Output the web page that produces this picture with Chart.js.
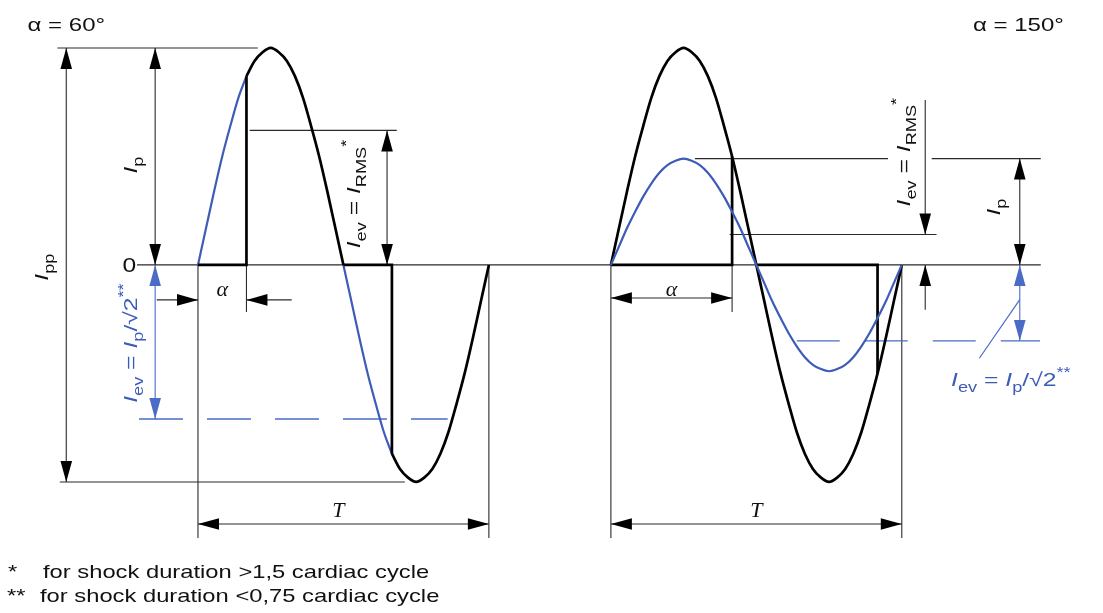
<!DOCTYPE html>
<html>
<head>
<meta charset="utf-8">
<script src="https://cdn.jsdelivr.net/npm/chart.js@4"></script>
<style>
html,body{margin:0;padding:0;background:#fff;}
#wrap{width:1103px;height:613px;position:relative;}
</style>
</head>
<body>
<div id="wrap"><canvas id="wave"></canvas></div>
<script>
// phase angle in degrees, one sample every 10 deg over one period
const phase = [0,10,20,30,40,50,60,70,80,90,100,110,120,130,140,150,160,170,180,
  190,200,210,220,230,240,250,260,270,280,290,300,310,320,330,340,350,360];
// mains current, normalised to the peak Ip
const mains = [0,0.17,0.34,0.5,0.64,0.77,0.87,0.94,0.98,1,0.98,0.94,0.87,0.77,0.64,0.5,0.34,0.17,0,
  -0.17,-0.34,-0.5,-0.64,-0.77,-0.87,-0.94,-0.98,-1,-0.98,-0.94,-0.87,-0.77,-0.64,-0.5,-0.34,-0.17,0];
// equivalent sine for the 150 deg case
const evWave = [0,0.085,0.17,0.245,0.315,0.375,0.425,0.46,0.48,0.49,0.48,0.46,0.425,0.375,0.315,0.245,0.17,0.085,0,
  -0.085,-0.17,-0.245,-0.315,-0.375,-0.425,-0.46,-0.48,-0.49,-0.48,-0.46,-0.425,-0.375,-0.315,-0.245,-0.17,-0.085,0];

// per panel: where the period starts on the x axis, firing angle and levels
const panelStart = [0, 511];
const alpha = [60, 150];
const peakLevel = [1, 0.49];
const rmsLevel = [0.62, 0.14];
const evLevel = [-0.71, -0.35];

const BLACK = '#000';
const BLUE = '#3d5cb8';
const LINE = '#2a2a2a';
const BLUE_LINE = '#4a6cc6';

const at = d => phase.indexOf(d);
function piece(p, from, to, ys) {
  const i0 = at(from), i1 = at(to);
  return phase.slice(i0, i1 + 1).map((d, k) => ({x: panelStart[p] + d, y: ys[i0 + k]}));
}
// conduction gap at zero, then the jump when the thyristor fires
function step(p, from, fire) {
  const o = panelStart[p];
  return [{x: o + from, y: 0}, {x: o + fire, y: 0}, {x: o + fire, y: mains[at(fire)]}];
}

const curve = (data, color, w) => ({data, borderColor: color, borderWidth: w,
  pointRadius: 0, cubicInterpolationMode: 'monotone', fill: false});
const straight = (data, color, w) => ({data, borderColor: color, borderWidth: w,
  pointRadius: 0, tension: 0, fill: false, borderJoinStyle: 'miter'});

const datasets = [
  // alpha = 60
  straight(step(0, 0, alpha[0]), BLACK, 2.7),
  straight(step(0, 180, 180 + alpha[0]), BLACK, 2.7),
  curve(piece(0, alpha[0], 180, mains), BLACK, 2.7),
  curve(piece(0, 180 + alpha[0], 360, mains), BLACK, 2.7),
  curve(piece(0, 0, alpha[0], mains), BLUE, 2.2),
  curve(piece(0, 180, 180 + alpha[0], mains), BLUE, 2.2),
  // alpha = 150
  curve(piece(1, 0, 360, evWave), BLUE, 2.2),
  curve(piece(1, 0, 360, mains), BLACK, 2.7),
  straight(step(1, 0, alpha[1]), BLACK, 2.7),
  straight(step(1, 180, 180 + alpha[1]), BLACK, 2.7)
];

const SANS = '"Liberation Sans", Arial, sans-serif';
const SERIF = '"Liberation Serif", "Times New Roman", serif';
const WIDE = 1.3;   // the lettering runs wide

function rich(ctx, parts, x, y, opt) {
  const size = opt.size || 19;
  ctx.save();
  ctx.translate(x, y);
  if (opt.up) ctx.rotate(-Math.PI / 2);
  ctx.scale(WIDE, 1);
  ctx.fillStyle = opt.color || '#111';
  ctx.textBaseline = 'alphabetic';
  ctx.textAlign = 'left';
  const fontOf = p => `${p.it ? 'italic ' : ''}${p.sub || p.sup ? Math.round(size * 0.74) : size}px ${SANS}`;
  let w = 0;
  parts.forEach(p => { ctx.font = fontOf(p); w += ctx.measureText(p.t).width; });
  let cx = opt.center ? -w / 2 : 0;
  parts.forEach(p => {
    ctx.font = fontOf(p);
    const dy = p.sub ? size * 0.32 : p.sup ? -size * 0.45 : 0;
    ctx.fillText(p.t, cx, dy);
    cx += ctx.measureText(p.t).width;
  });
  ctx.restore();
}

function plain(ctx, text, x, y, size, align, wide) {
  ctx.save();
  ctx.translate(x, y);
  ctx.scale(wide || WIDE, 1);
  ctx.fillStyle = '#111';
  ctx.font = `${size}px ${SANS}`;
  ctx.textAlign = align || 'left';
  ctx.fillText(text, 0, 0);
  ctx.restore();
}

const I = {t: 'I', it: 1};
const lblPP = [I, {t: 'pp', sub: 1}];
const lblP = [I, {t: 'p', sub: 1}];
const lblRMS = [I, {t: 'ev', sub: 1}, {t: ' = '}, I, {t: 'RMS', sub: 1}, {t: '*', sup: 1}];
const lblEV = [I, {t: 'ev', sub: 1}, {t: ' = '}, I, {t: 'p', sub: 1}, {t: '/\u221A2'}, {t: '**', sup: 1}];

const sketch = {
  id: 'sketch',
  beforeDatasetsDraw(chart) {
    const {ctx, scales: {x, y}} = chart;
    const X = (p, d) => x.getPixelForValue(panelStart[p] + d);
    const Y = v => y.getPixelForValue(v);

    const seg = (x1, y1, x2, y2, color, w, dash) => {
      ctx.save();
      ctx.strokeStyle = color || LINE;
      ctx.lineWidth = w || 1.1;
      if (dash) { ctx.setLineDash(dash); }
      ctx.beginPath(); ctx.moveTo(x1, y1); ctx.lineTo(x2, y2); ctx.stroke();
      ctx.restore();
    };
    const head = (tx, ty, dx, dy, color) => {
      const L = 21, H = 5.8;
      const len = Math.hypot(dx, dy), ux = dx / len, uy = dy / len;
      ctx.save();
      ctx.fillStyle = color || '#000';
      ctx.beginPath();
      ctx.moveTo(tx, ty);
      ctx.lineTo(tx - ux * L - uy * H, ty - uy * L + ux * H);
      ctx.lineTo(tx - ux * L + uy * H, ty - uy * L - ux * H);
      ctx.closePath(); ctx.fill();
      ctx.restore();
    };
    // dimension arrow with heads on both ends
    const dim = (x1, y1, x2, y2, color) => {
      seg(x1, y1, x2, y2, color);
      head(x1, y1, x1 - x2, y1 - y2, color);
      head(x2, y2, x2 - x1, y2 - y1, color);
    };
    const hline = (p, d1, d2, v, color, dash) => seg(X(p, d1), Y(v), X(p, d2), Y(v), color, dash ? 1.4 : 1.1, dash);
    const vline = (p, d, v1, v2) => seg(X(p, d), Y(v1), X(p, d), Y(v2));

    // zero axis through both panels
    seg(X(0, -75.5), Y(0), X(0, 1043), Y(0), LINE, 1.3);

    // ---- alpha = 60 ----
    hline(0, -174, 74, peakLevel[0]);
    hline(0, -171, 256, -peakLevel[0]);
    dim(X(0, -163), Y(peakLevel[0]), X(0, -163), Y(-peakLevel[0]));
    dim(X(0, -53), Y(peakLevel[0]), X(0, -53), Y(0));
    dim(X(0, -53), Y(0), X(0, -53), Y(evLevel[0]), BLUE_LINE);
    hline(0, -73, 309, evLevel[0], BLUE_LINE, [44, 24]);
    vline(0, 0, 0, -1.258);
    vline(0, alpha[0], 0, -0.217);
    vline(0, 360, 0, -1.258);
    seg(X(0, -51), Y(-0.161), X(0, 0), Y(-0.161));
    head(X(0, 0), Y(-0.161), 1, 0);
    seg(X(0, 116), Y(-0.161), X(0, alpha[0]), Y(-0.161));
    head(X(0, alpha[0]), Y(-0.161), -1, 0);
    hline(0, 64, 246, rmsLevel[0]);
    dim(X(0, 234), Y(rmsLevel[0]), X(0, 234), Y(0));
    dim(X(0, 0), Y(-1.194), X(0, 360), Y(-1.194));

    // ---- alpha = 150 ----
    vline(1, 0, 0, -1.258);
    vline(1, alpha[1], 0, -0.217);
    vline(1, 360, 0, -1.258);
    dim(X(1, 0), Y(-0.152), X(1, alpha[1]), Y(-0.152));
    dim(X(1, 0), Y(-1.194), X(1, 360), Y(-1.194));
    hline(1, 104, 343, peakLevel[1]);
    hline(1, 397, 532, peakLevel[1]);
    hline(1, 147, 403, rmsLevel[1]);
    seg(X(1, 389), Y(0.76), X(1, 389), Y(rmsLevel[1]));
    head(X(1, 389), Y(rmsLevel[1]), 0, 1);
    seg(X(1, 389), Y(-0.207), X(1, 389), Y(0));
    head(X(1, 389), Y(0), 0, -1);
    dim(X(1, 506), Y(peakLevel[1]), X(1, 506), Y(0));
    dim(X(1, 506), Y(0), X(1, 506), Y(evLevel[1]), BLUE_LINE);
    hline(1, 230, 531, evLevel[1], BLUE_LINE, [43, 25]);
    seg(X(1, 456), Y(-0.43), X(1, 506), Y(-0.16), BLUE_LINE, 1.2);
  },
  afterDatasetsDraw(chart) {
    const {ctx, scales: {x, y}} = chart;
    const X = (p, d) => x.getPixelForValue(panelStart[p] + d);
    const Y = v => y.getPixelForValue(v);

    plain(ctx, '\u03B1 = 60\u00B0', X(0, -211), Y(1.078), 18.5);
    plain(ctx, '\u03B1 = 150\u00B0', X(1, 448), Y(1.078), 18.5);
    plain(ctx, '0', X(0, -85), Y(0) + 7.5, 20.5, 'center', 1.2);

    ctx.save();
    ctx.fillStyle = '#111';
    ctx.textAlign = 'center';
    ctx.font = `italic 22px ${SERIF}`;
    ctx.fillText('\u03B1', X(0, alpha[0] / 2), Y(-0.143));
    ctx.fillText('\u03B1', X(1, alpha[1] / 2), Y(-0.143));
    ctx.fillText('T', X(0, 180) - 5, Y(-1.161));
    ctx.fillText('T', X(1, 180), Y(-1.161));
    ctx.restore();

    rich(ctx, lblPP, X(0, -186), Y(-0.01), {up: 1, center: 1});
    rich(ctx, lblP, X(0, -75.5), Y(0.46), {up: 1, center: 1});
    rich(ctx, lblEV, X(0, -75.5), Y(-0.36), {up: 1, center: 1, color: BLUE});
    rich(ctx, lblRMS, X(0, 200), Y(0.327), {up: 1, center: 1});
    rich(ctx, lblRMS, X(1, 370), Y(0.52), {up: 1, center: 1});
    rich(ctx, lblP, X(1, 481), Y(0.267), {up: 1, center: 1});
    rich(ctx, lblEV, X(1, 421), Y(-0.558), {color: BLUE});

    // footnotes
    plain(ctx, '*', 8, 578, 19, 'left', 1.25);
    plain(ctx, 'for shock duration >1,5 cardiac cycle', 43, 578, 19, 'left', 1.25);
    plain(ctx, '**', 7, 602, 19, 'left', 1.25);
    plain(ctx, 'for shock duration <0,75 cardiac cycle', 40, 602, 19, 'left', 1.25);
  }
};

new Chart(document.getElementById('wave'), {
  type: 'line',
  data: {datasets},
  options: {
    responsive: true,
    maintainAspectRatio: false,
    animation: false,
    events: [],
    layout: {padding: 0},
    plugins: {legend: {display: false}, tooltip: {enabled: false}},
    scales: {
      x: {type: 'linear', min: -245, max: 1120, display: false},
      y: {type: 'linear', min: -1.604, max: 1.221, display: false}
    }
  },
  plugins: [sketch]
});
</script>
</body>
</html>
